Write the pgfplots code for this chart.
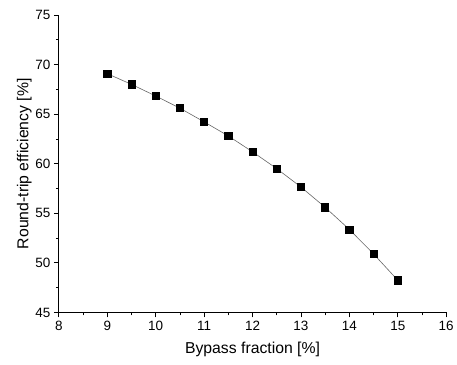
\documentclass[border=0pt]{standalone}
\usepackage{pgfplots}
\pgfplotsset{compat=1.18}
\usepackage{fontspec}
\setmainfont{Liberation Sans}
\begin{document}
\begin{tikzpicture}
\begin{axis}[
  scale only axis,
  width=388pt, height=298pt,
  xmin=8, xmax=16, ymin=45, ymax=75,
  xtick={8,9,...,16}, ytick={45,50,...,75},
  minor x tick num=1, minor y tick num=1,
  axis lines*=left,
  axis line style={line width=0.8pt},
  tick align=outside,
  major tick length=5pt, minor tick length=3pt,
  every tick/.style={black, line width=0.8pt},
  /pgf/number format/assume math mode=true,
  ticklabel style={font=\fontsize{13.5}{15}\selectfont},
  label style={font=\fontsize{15.8}{18}\selectfont},
  xlabel={Bypass fraction [\%]},
  ylabel={Round-trip efficiency [\%]},
  xlabel style={yshift=-5pt},
  ylabel style={yshift=-3pt},
  clip=false,
]
\addplot[color=gray!80!black, line width=0.6pt, mark=square*, mark size=3.6pt, mark options={fill=black, draw=black, solid}]
  coordinates {
  (9,69.08) (9.5,68.0) (10,66.83) (10.5,65.6) (11,64.22) (11.5,62.8)
  (12,61.2) (12.5,59.5) (13,57.65) (13.5,55.6) (14,53.37) (14.5,50.9) (15,48.25)
  };
\end{axis}
\path (current axis.south west) ++(-59pt,-52pt) rectangle ++(457pt,365pt);
\end{tikzpicture}
\end{document}
